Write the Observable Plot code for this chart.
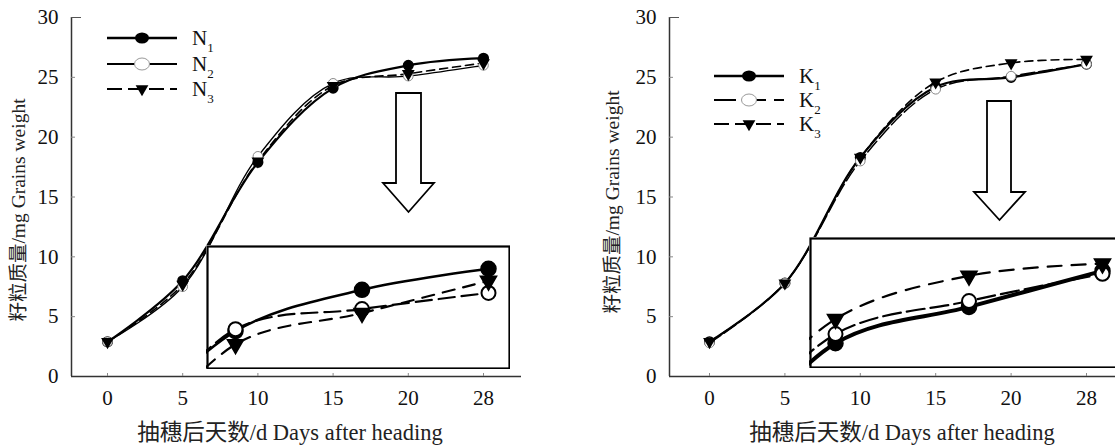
<!DOCTYPE html>
<html><head><meta charset="utf-8">
<script src="https://cdn.jsdelivr.net/npm/d3@7"></script>
<script src="https://cdn.jsdelivr.net/npm/@observablehq/plot@0.6"></script>
<style>
body{margin:0;background:#fff;}
#wrap{position:relative;width:1115px;height:447px;overflow:hidden;background:#fff;}
#wrap > svg{position:absolute;max-width:none;}
</style></head><body><div id="wrap"></div>
<script>
// ---- data ----
const dayLabels = ["0","5","10","15","20","28"];
const dayIndex = [0,1,2,3,4,5];
const yTicks = [0,5,10,15,20,25,30];

const N1 = [2.9, 8.0, 17.9, 24.1, 26.0, 26.6];
const N2 = [2.9, 7.5, 18.4, 24.5, 25.1, 26.0];
const N3 = [2.9, 7.7, 18.0, 24.3, 25.3, 26.2];
const K1 = [2.9, 7.8, 18.3, 24.2, 25.0, 26.1];
const K2 = [2.8, 7.8, 18.0, 24.0, 25.1, 26.1];
const K3 = [2.9, 7.8, 18.3, 24.6, 26.2, 26.5];

// magnified inset views (days 10-28, index 2..5)
const insetIndex = [2,3,4,5];
const N1inset = [20.5, 24.24, 25.57, 26.25];
const N2inset = [20.0, 24.30, 24.95, 25.47];
const N3inset = [19.5, 23.81, 24.82, 25.86];
const K1inset = [19.5, 23.77, 24.88, 25.98];
const K2inset = [20.0, 24.05, 25.06, 25.89];
const K3inset = [20.5, 24.51, 25.83, 26.20];
const insetY = [23, 27];

const nNames = ["N","N","N"], kNames = ["K","K","K"], subs = ["1","2","3"];
const xTitle = "抽穗后天数/d Days after heading";
const yTitle = "籽粒质量/mg Grains weight";

// ---- styles ----
const FONT = "Liberation Serif, Times New Roman, Noto Sans CJK SC, serif";
const lineStyle = [
  {strokeWidth: 2.2, dash: null},
  {strokeWidth: 1.4, dash: null},
  {strokeWidth: 1.6, dash: "8,5"}
];
const lineStyleK = [
  {strokeWidth: 2.2, dash: null},
  {strokeWidth: 1.5, dash: "14,4"},
  {strokeWidth: 1.6, dash: "8,5"}
];
const insetLineN = [
  {strokeWidth: 2.5, dash: null},
  {strokeWidth: 2.2, dash: "16,7"},
  {strokeWidth: 2.2, dash: "12,9"}
];
const insetLineK = [
  {strokeWidth: 4, dash: null},
  {strokeWidth: 2.2, dash: "18,6"},
  {strokeWidth: 2.2, dash: "14,10"}
];

function markerMarks(data, k, big, clip) {
  const r = big ? 7.5 : 4.8;
  if (k === 0) return Plot.dot(data, {x:"x", y:"y", r, fill:"#000", stroke:"#000", clip});
  if (k === 1) return Plot.dot(data, {x:"x", y:"y", r: big ? 7 : 4.8, fill:"#fff", stroke: big ? "#000" : "#888", strokeWidth: big ? 2 : 1, clip});
  return Plot.dot(data, {x:"x", y:"y", symbol:"triangle", rotate:180, r: big ? 6 : 3.8, fill:"#000", stroke:"#000", clip});
}

function makePanel({series, styles, width, marginLeft, marginRight, xDomain}) {
  const txt = {fontFamily: FONT, fontSize: 21, fill: "#111"};
  const marks = [
    Plot.ruleY([0], {stroke:"#333", strokeWidth:1.5}),
    Plot.ruleX([xDomain[0]], {stroke:"#333", strokeWidth:1.5}),
    Plot.axisY(yTicks, {tickSize: 0, tickPadding: 13, label: null, ...txt}),
    Plot.axisY(yTicks.slice(1, -1), {tickSize: -4, tickFormat: () => "", label: null, stroke:"#888"}),
    Plot.axisY([30], {tickSize: -10, tickFormat: () => "", label: null, stroke:"#555"}),
    Plot.axisX(dayIndex, {tickSize: 0, tickPadding: 14, tickFormat: i => dayLabels[i], label: null, ...txt}),
    Plot.axisX(dayIndex, {tickSize: -3, tickFormat: () => "", label: null, stroke:"#888"})
  ];
  series.forEach((vals, k) => {
    const data = dayIndex.map(i => ({x: i, y: vals[i]}));
    marks.push(Plot.line(data, {x:"x", y:"y", curve:"catmull-rom", stroke:"#000",
      strokeWidth: styles[k].strokeWidth, strokeDasharray: styles[k].dash}));
  });
  series.forEach((vals, k) => {
    const data = dayIndex.map(i => ({x: i, y: vals[i]}));
    marks.push(markerMarks(data, k, false, false));
  });
  return Plot.plot({
    width, height: 447, marginLeft, marginRight, marginTop: 17, marginBottom: 71,
    x: {domain: xDomain, axis: null},
    y: {domain: [0, 30], axis: null},
    style: {fontFamily: FONT, fontSize: "21px", background: "transparent", overflow: "visible"},
    marks
  });
}

function makeInset({series, styles, width, height, xDomain}) {
  const marks = [];
  series.forEach((vals, k) => {
    const data = insetIndex.map((i, j) => ({x: i, y: vals[j]}));
    marks.push(Plot.line(data, {x:"x", y:"y", curve:"catmull-rom", stroke:"#000",
      strokeWidth: styles[k].strokeWidth, strokeDasharray: styles[k].dash, clip: true}));
  });
  series.forEach((vals, k) => {
    const data = insetIndex.map((i, j) => ({x: i, y: vals[j]})).filter(d => d.x >= xDomain[0]);
    marks.push(markerMarks(data, k, true, true));
  });
  marks.push(Plot.frame({stroke:"#000", strokeWidth: 2.2, inset: 1}));
  return Plot.plot({
    width, height, margin: 0,
    x: {domain: xDomain, axis: null},
    y: {domain: insetY, axis: null},
    style: {background: "#fff"},
    marks
  });
}

const wrap = document.getElementById("wrap");
function place(svg, left, top) {
  svg.style.left = left + "px"; svg.style.top = top + "px";
  wrap.appendChild(svg);
}

// left panel: index 0 at x=107, 5 at x=483
const leftX = [(71 - 107) / 75.2, (521 - 107) / 75.2];
place(makePanel({series:[N1,N2,N3], styles: lineStyle, width: 557, marginLeft: 71, marginRight: 36, xDomain: leftX}), 0, 0);
// right panel: index 0 at x=709, 5 at x=1086
const rightX = [(669 - 709) / 75.4, (1115 - 709) / 75.4];
place(makePanel({series:[K1,K2,K3], styles: lineStyleK, width: 558, marginLeft: 112, marginRight: 0, xDomain: rightX}), 557, 0);

// insets
place(makeInset({series:[N1inset,N2inset,N3inset], styles: insetLineN, width: 304, height: 124,
  xDomain: [3 - 29/126.5, 5 + 22/126.5]}), 206, 245);
place(makeInset({series:[K1inset,K2inset,K3inset], styles: insetLineK, width: 312, height: 131,
  xDomain: [3 - 26/133.5, 3 + (1121 - 835)/133.5]}), 809, 237);

// overlay: legends, arrows, titles
const ov = d3.create("svg").attr("width", 1115).attr("height", 447)
  .style("left","0px").style("top","0px").style("font-family", FONT);

function legend(names, x0, ys, styles, textX) {
  names.forEach((nm, k) => {
    const y = ys[k];
    const g = ov.append("g");
    g.append("line").attr("x1", x0).attr("x2", x0 + 70).attr("y1", y).attr("y2", y)
      .attr("stroke", "#000").attr("stroke-width", k === 0 ? 2.5 : 1.8)
      .attr("stroke-dasharray", k === 2 ? "15,6" : (styles[k].dash ? "22,8" : null));
    const cx = x0 + 35;
    if (k === 0) g.append("ellipse").attr("cx", cx).attr("cy", y).attr("rx", 7).attr("ry", 5.5).attr("fill", "#000");
    else if (k === 1) g.append("ellipse").attr("cx", cx).attr("cy", y).attr("rx", 7.5).attr("ry", 6).attr("fill", "#fff").attr("stroke", "#999");
    else g.append("path").attr("d", d3.symbol(d3.symbolTriangle, 70)()).attr("transform", `translate(${cx},${y}) rotate(180)`).attr("fill", "#000");
    const t = g.append("text").attr("x", textX).attr("y", y + 7).attr("font-size", 21).attr("fill", "#111");
    t.append("tspan").text(nm);
    t.append("tspan").attr("font-size", 13).attr("dy", 7).text(subs[k]);
  });
}
legend(nNames, 107, [38, 64, 89], lineStyle, 192);
legend(kNames, 714, [76, 100, 124], lineStyleK, 799);

function arrow(x1, x2, top, shoulder, hx1, hx2, tip) {
  const cx = (hx1 + hx2) / 2;
  const pts = [[x1, top], [x2, top], [x2, shoulder], [hx2, shoulder], [cx, tip], [hx1, shoulder], [x1, shoulder]];
  ov.append("polygon").attr("points", pts.map(p => p.join(",")).join(" "))
    .attr("fill", "#fff").attr("stroke", "#000").attr("stroke-width", 1.8);
}
arrow(396, 421, 93, 183, 383, 434, 212);
arrow(987, 1011, 101, 192, 974, 1025, 220);

function xT(cx) {
  ov.append("text").attr("x", cx).attr("y", 440).attr("text-anchor", "middle")
    .attr("font-size", 22.5).attr("fill", "#222").text(xTitle);
}
xT(290); xT(902);
function yT(cx, cy) {
  ov.append("text").attr("transform", `translate(${cx},${cy}) rotate(-90)`).attr("text-anchor", "middle")
    .attr("dy", "0.35em").attr("font-size", 19.5).attr("fill", "#222").text(yTitle);
}
yT(18, 210); yT(612, 202);

wrap.appendChild(ov.node());
</script></body></html>
